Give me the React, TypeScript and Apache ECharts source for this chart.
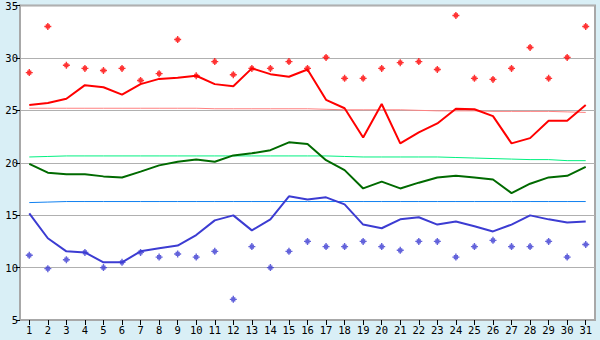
import React, { useEffect, useRef } from "react";
import * as echarts from "echarts";

const days = Array.from({ length: 31 }, (_, i) => String(i + 1));

const maxLine = [25.5, 25.7, 26.1, 27.4, 27.2, 26.5, 27.5, 28.0, 28.1, 28.3, 27.5, 27.3, 29.0, 28.45, 28.2, 28.9, 26.0, 25.2, 22.4, 25.6, 21.85, 22.9, 23.75, 25.15, 25.1, 24.45, 21.85, 22.35, 24.0, 24.0, 25.5];
const maxPoints = [28.6, 33.0, 29.3, 29.0, 28.8, 29.0, 27.85, 28.5, 31.75, 28.3, 29.65, 28.4, 29.0, 29.0, 29.65, 29.0, 30.05, 28.05, 28.05, 29.0, 29.55, 29.65, 28.9, 34.05, 28.05, 27.95, 29.0, 31.0, 28.05, 30.05, 33.0];
const meanLine = [19.9, 19.05, 18.9, 18.9, 18.7, 18.6, 19.15, 19.75, 20.1, 20.3, 20.1, 20.7, 20.9, 21.2, 21.95, 21.8, 20.25, 19.3, 17.55, 18.2, 17.55, 18.1, 18.6, 18.75, 18.6, 18.4, 17.1, 18.0, 18.6, 18.75, 19.6];
const minLine = [15.17, 12.8, 11.55, 11.45, 10.5, 10.5, 11.55, 11.85, 12.1, 13.1, 14.5, 14.98, 13.55, 14.6, 16.8, 16.5, 16.7, 16.03, 14.1, 13.75, 14.6, 14.8, 14.1, 14.4, 13.95, 13.45, 14.1, 14.98, 14.6, 14.3, 14.4];
const minPoints = [11.17, 9.9, 10.75, 11.45, 10.0, 10.5, 11.45, 11.0, 11.3, 11.0, 11.55, 6.97, 12.0, 10.0, 11.55, 12.5, 12.0, 12.0, 12.5, 12.0, 11.65, 12.5, 12.5, 11.0, 12.0, 12.6, 12.0, 12.0, 12.5, 11.0, 12.2];
const normalMax = [25.2, 25.2, 25.2, 25.2, 25.2, 25.2, 25.2, 25.2, 25.2, 25.2, 25.15, 25.15, 25.15, 25.15, 25.15, 25.15, 25.1, 25.05, 25.05, 25.05, 25.05, 25.0, 24.95, 24.95, 24.95, 24.9, 24.9, 24.9, 24.9, 24.85, 24.8];
const normalMean = [20.55, 20.6, 20.65, 20.65, 20.65, 20.65, 20.65, 20.65, 20.65, 20.65, 20.65, 20.65, 20.65, 20.65, 20.65, 20.65, 20.65, 20.6, 20.55, 20.55, 20.55, 20.55, 20.55, 20.5, 20.45, 20.4, 20.35, 20.3, 20.3, 20.2, 20.2];
const normalMin = [16.2, 16.25, 16.3, 16.3, 16.3, 16.3, 16.3, 16.3, 16.3, 16.3, 16.3, 16.3, 16.3, 16.3, 16.3, 16.3, 16.3, 16.3, 16.3, 16.3, 16.3, 16.3, 16.3, 16.3, 16.3, 16.3, 16.3, 16.3, 16.3, 16.3, 16.3];

const yMin = 5;
const yMax = 35;
const yStep = 5;

const markerPath = "path://M2,0H3V1H4V2H5V3H4V4H3V5H2V4H1V3H0V2H1V1H2Z";

export default function App() {
  const ref = useRef<HTMLDivElement>(null);
  useEffect(() => {
    document.body.style.margin = "0";
    if (!ref.current) return;
    const chart = echarts.init(ref.current, null, { renderer: "svg" });
    const font = { fontFamily: "DejaVu Sans Mono", fontSize: 10.5, color: "#000" };
    const lineSeries = (data: number[], color: string, width: number, z: number) => ({
      type: "line",
      data,
      symbol: "none",
      lineStyle: { color, width },
      itemStyle: { color },
      z,
    });
    const scatterSeries = (data: number[], color: string) => ({
      type: "scatter",
      data,
      symbol: markerPath,
      symbolSize: 7,
      itemStyle: { color },
      z: 10,
    });
    chart.setOption({
      animation: false,
      backgroundColor: "#D9EFF6",
      grid: {
        left: 20,
        right: 5,
        top: 5,
        bottom: 20,
        show: true,
        backgroundColor: "#FFFFFF",
        borderColor: "#A8A8A8",
        borderWidth: 2,
      },
      xAxis: {
        type: "category",
        data: days,
        boundaryGap: true,
        axisLine: { show: true, lineStyle: { color: "#A8A8A8", width: 1 } },
        axisTick: { show: true, alignWithLabel: true, length: 5, lineStyle: { color: "#000" } },
        axisLabel: { ...font, margin: 4, interval: 0 },
        splitLine: { show: false },
      },
      yAxis: {
        type: "value",
        min: yMin,
        max: yMax,
        interval: yStep,
        axisLine: { show: true, lineStyle: { color: "#A8A8A8", width: 2 } },
        axisTick: { show: true, length: 4, lineStyle: { color: "#000" } },
        axisLabel: { ...font, margin: 2 },
        splitLine: { show: true, lineStyle: { color: "#B0B0B0", width: 1 } },
      },
      series: [
        lineSeries(normalMax, "#FF8080", 1, 2),
        lineSeries(normalMean, "#00F080", 1, 2),
        lineSeries(normalMin, "#1080F0", 1, 2),
        lineSeries(maxLine, "#FF0000", 2, 5),
        lineSeries(meanLine, "#006A00", 2, 5),
        lineSeries(minLine, "#3C3CD2", 2, 5),
        scatterSeries(maxPoints, "#FF0000"),
        scatterSeries(minPoints, "#3C3CD2"),
      ],
    });
    return () => chart.dispose();
  }, []);
  return <div ref={ref} style={{ width: 600, height: 340 }} />;
}
